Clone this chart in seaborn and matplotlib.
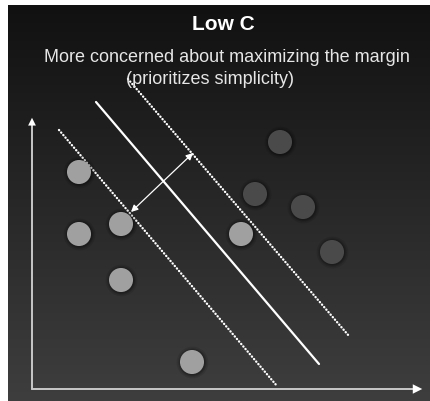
import numpy as np
import pandas as pd
import matplotlib
matplotlib.use("Agg")
import matplotlib.pyplot as plt
import seaborn as sns

# points of the two classes (pixel space of the picture)
light_x = [79, 79, 121, 121, 241, 192]
light_y = [173, 235, 225, 281, 235, 363]
dark_x = [280, 255, 303, 332]
dark_y = [143, 195, 208, 253]

# separating line and the two margin lines (end points)
hyper_x = [96, 319]
hyper_y = [103, 365]
margin_hi_x = [128, 349]
margin_hi_y = [80, 337]
margin_lo_x = [59, 277]
margin_lo_y = [131, 387]

# margin width arrow
arrow_x = [131, 193]
arrow_y = [213, 154]

title = "Low C"
subtitle_1 = "More concerned about maximizing the margin"
subtitle_2 = "(prioritizes simplicity)"

sns.set_theme(style="white")
plt.rcParams["font.family"] = ["Liberation Sans", "DejaVu Sans"]

fig = plt.figure(figsize=(4.3, 4.02), dpi=100, facecolor="white")
ax = fig.add_axes([0, 0, 1, 1])

# dark gradient panel
grad = np.linspace(0, 1, 256).reshape(-1, 1)
ax.imshow(grad, cmap=matplotlib.colors.LinearSegmentedColormap.from_list(
    "bg", ["#111111", "#3e3e3e"]), aspect="auto",
    extent=[8, 430, 402, 6], zorder=0)

# axes arrows
ax.plot([32, 32], [390, 125], color="#c8c8c8", lw=1.4, zorder=2)
ax.plot([32, 415], [390, 390], color="#c8c8c8", lw=1.4, zorder=2)
ax.annotate("", xy=(32, 116), xytext=(32, 132),
            arrowprops=dict(arrowstyle="-|>", color="white", lw=0, mutation_scale=14), zorder=3)
ax.annotate("", xy=(425, 390), xytext=(408, 390),
            arrowprops=dict(arrowstyle="-|>", color="white", lw=0, mutation_scale=17), zorder=3)

# hyperplane and margins
ax.plot(hyper_x, hyper_y, color="white", lw=1.6, solid_capstyle="round", zorder=3)
for mx, my in [(margin_hi_x, margin_hi_y), (margin_lo_x, margin_lo_y)]:
    ax.plot(mx, my, color="white", lw=1.7, linestyle=(0, (0.1, 1.3)),
            dash_capstyle="round", zorder=3)

# margin arrow
ax.annotate("", xy=(arrow_x[0], arrow_y[0]), xytext=(arrow_x[1], arrow_y[1]),
            arrowprops=dict(arrowstyle="<|-|>", color="white", lw=0.9,
                            mutation_scale=10, shrinkA=0, shrinkB=0), zorder=4)

# points with a soft shadow
pts = pd.DataFrame({
    "x": light_x + dark_x,
    "y": light_y + dark_y,
    "cls": ["a"] * len(light_x) + ["b"] * len(dark_x),
})
for s, a in [(520, 0.10), (420, 0.14), (350, 0.18)]:
    sns.scatterplot(data=pts, x="x", y="y", ax=ax, s=s, color="black",
                    alpha=a, linewidth=0, legend=False, zorder=4)
sns.scatterplot(data=pts, x="x", y="y", hue="cls", ax=ax, s=300,
                palette={"a": "#a0a0a0", "b": "#4a4a4a"}, linewidth=0,
                legend=False, zorder=5)
ax.set_xlim(0, 430)
ax.set_ylim(402, 0)
ax.axis("off")

# text
ax.text(223, 24, title, color="white", fontsize=15, fontweight="bold",
        ha="center", va="center", zorder=6)
ax.text(227, 57, subtitle_1, color="#e6e6e6", fontsize=13,
        ha="center", va="center", zorder=6)
ax.text(210, 80, subtitle_2, color="#e6e6e6", fontsize=13,
        ha="center", va="center", zorder=6)

fig.savefig("out.png", dpi=100, facecolor="white")
